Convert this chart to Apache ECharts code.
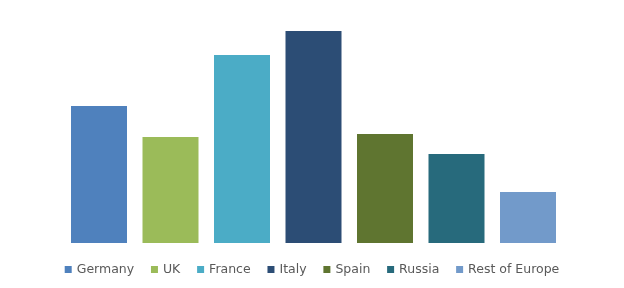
<!DOCTYPE html>
<html><head><meta charset="utf-8">
<script src="https://cdn.jsdelivr.net/npm/echarts@6/dist/echarts.min.js"></script>
<style>html,body{margin:0;padding:0;background:#fff}#c{width:624px;height:288px}</style>
</head><body><div id="c"></div>
<script>
const categories = ['Germany','UK','France','Italy','Spain','Russia','Rest of Europe'];
const values = [137,106,188,212,109,89,51];
const colors = ['#4F81BD','#9BBB59','#4BACC6','#2C4D75','#5F7530','#276A7C','#729ACA'];

const chart = echarts.init(document.getElementById('c'));
const series = categories.map((name, i) => ({
  name: name,
  type: 'bar',
  stack: 'all',
  barWidth: 56,
  itemStyle: { color: colors[i] },
  data: categories.map((_, j) => j === i ? values[i] : '-')
}));
chart.setOption({
  animation: false,
  grid: { left: 63.25, right: 60.25, top: 20, bottom: 45 },
  xAxis: { type: 'category', data: categories, show: false },
  yAxis: { type: 'value', min: 0, max: 223, show: false },
  legend: {
    bottom: 7,
    left: 'center',
    itemWidth: 7, itemHeight: 7, itemGap: 16.8,
    icon: 'rect',
    textStyle: { color: '#595959', fontSize: 12.5, fontFamily: 'DejaVu Sans' },
    data: categories
  },
  series: series
});
</script></body></html>
